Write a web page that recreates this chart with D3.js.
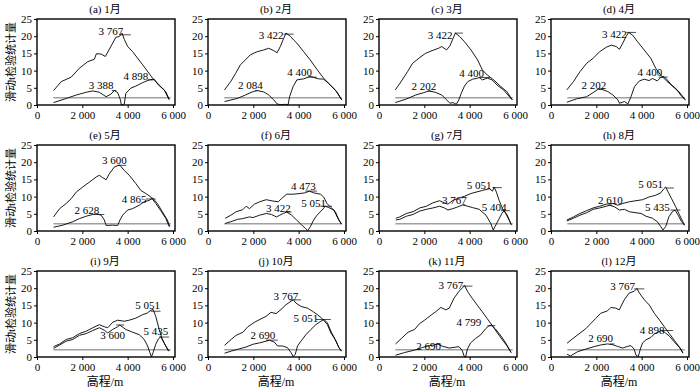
<!DOCTYPE html>
<html><head><meta charset="utf-8">
<script src="https://cdn.jsdelivr.net/npm/d3@7"></script>
<style>body{margin:0;background:#fff}svg{display:block}</style>
</head><body><svg id="c" width="700" height="391"></svg>
<script>
const months = ["1月","2月","3月","4月","5月","6月","7月","8月","9月","10月","11月","12月"];
const letters = ["a","b","c","d","e","f","g","h","i","j","k","l"];
const xTicks = [0, 2000, 4000, 6000];
const yTicks = [0, 5, 10, 15, 20, 25];
const threshold = 2.1;
const thresholdRange = [720, 5900];

const m1A = [[730,4.2],[1070,6.8],[1510,8.1],[1870,10.7],[2240,12.6],[2530,13.3],[2620,14.9],[2830,14.8],[3015,14.1],[3340,18],[3480,19.7],[3630,19.9],[3750,20.9],[3850,19.1],[4000,17],[4220,15.5],[4660,11.7],[5100,7.8],[5390,5.8],[5680,3.9],[5830,1.7]];
const m1B = [[730,0.7],[1290,1.9],[1730,2.9],[2170,3.7],[2460,4.1],[2750,3.7],[3050,2.4],[3270,3.2],[3410,4.2],[3560,3.6],[3630,2.4],[3680,1.5],[3720,0.1],[3780,0],[3850,0.3],[3920,3.4],[4140,4.9],[4360,5.5],[4660,6.5],[4950,7.3],[5170,7.5],[5360,5.8],[5610,4.4],[5830,1.5]];
const m2A = [[730,4.4],[1000,6.8],[1220,9.2],[1430,11.7],[1650,13.1],[1870,14.6],[2170,15.5],[2460,16],[2680,16.5],[2900,15.8],[3050,15.2],[3190,17],[3340,19.4],[3440,20.9],[3630,20],[3780,18.9],[3920,18],[4220,15.5],[4510,13.1],[4800,10.4],[5100,7.8],[5390,5.8],[5680,3.9],[5900,1.5]];
const m2B = [[730,1],[1290,1.9],[1650,2.9],[1950,3.8],[2170,4.2],[2460,3.8],[2680,2.9],[2900,1.5],[3050,0.3],[3190,0.1],[3410,0.2],[3530,0],[3600,2.4],[3750,5.3],[3920,7.3],[4220,7.6],[4510,8.3],[4660,8],[4880,7.6],[5100,7.5],[5320,6.3],[5610,4.4],[5900,1.5]];
const m3A = [[720,4.4],[975,6.8],[1260,9.7],[1480,12.1],[1760,13.6],[2050,15],[2340,15.8],[2630,16.5],[2770,17],[2980,16],[3130,17.2],[3270,19.4],[3370,20.9],[3560,19.9],[3770,18.4],[4060,16],[4350,13.1],[4560,10.2],[4780,8.7],[5060,7.3],[5350,5.5],[5640,3.9],[5880,1.5]];
const m3B = [[720,0.7],[1190,1.7],[1620,2.9],[1980,3.6],[2200,4.1],[2480,3.7],[2770,2.9],[2980,1.5],[3130,0.5],[3270,0.7],[3410,0.2],[3520,1.5],[3630,3.4],[3770,5.5],[3920,6.8],[4130,7.5],[4350,7.8],[4420,8],[4560,7.3],[4780,7.8],[4990,7.3],[5210,5.8],[5490,4.4],[5880,1.5]];
const m4A = [[700,4.4],[990,6.8],[1280,9.7],[1570,12.1],[1860,13.6],[2150,15.5],[2440,16.8],[2660,17.4],[2880,17],[3020,16.2],[3170,18],[3310,19.9],[3430,21.1],[3600,20.3],[3820,18.4],[4110,16],[4400,13.6],[4620,10.7],[4840,8.7],[5130,6.8],[5490,4.9],[5780,2.4],[5930,1.5]];
const m4B = [[700,0.8],[1130,1.8],[1570,2.4],[1860,3.6],[2080,4.6],[2220,4.6],[2510,3.9],[2730,2.9],[2950,1.5],[3020,0.5],[3240,1],[3390,0.3],[3530,2.4],[3680,5.3],[3900,7],[4110,7.5],[4330,7.1],[4480,7.7],[4690,7],[4840,8],[4980,8.3],[5130,7.3],[5350,5.5],[5640,3.9],[5930,1.5]];
const m5A = [[730,4.1],[1000,6.5],[1290,8],[1510,9.4],[1730,11.3],[2020,12.8],[2310,14.2],[2610,15.7],[2750,16.2],[2900,15.5],[3050,14.9],[3190,16.6],[3410,18.6],[3560,19],[3660,19.1],[3850,17.6],[4070,16.2],[4360,13.8],[4580,11.8],[4800,10.9],[5020,9.9],[5240,8],[5460,5.9],[5680,3.7],[5830,1.3]];
const m5B = [[730,1.1],[1140,1.7],[1580,2.7],[1870,3.6],[2170,4.3],[2460,4.8],[2680,4.9],[2830,4.6],[2970,3.2],[3050,1.6],[3340,1.7],[3560,1.6],[3660,3.2],[3780,4.6],[4000,6.1],[4220,6.5],[4510,7.5],[4730,8.5],[4950,8.9],[5100,9.6],[5310,8],[5530,5.6],[5750,3.2],[5860,1.3]];
const m6A = [[760,3.7],[1010,4.6],[1240,5.6],[1530,6.2],[1680,7.2],[1830,6.5],[2050,7.8],[2280,8.5],[2570,9.1],[2870,8.7],[3100,8.5],[3240,9.4],[3470,10.7],[3760,10.7],[4060,10.9],[4290,11.1],[4470,11.6],[4660,11.1],[4960,10.7],[5100,9.9],[5250,8],[5400,7],[5620,5.6],[5770,3.2],[5890,2]];
const m6B = [[760,2.2],[1010,2.7],[1310,3.4],[1530,3.6],[1830,4.1],[1980,3.9],[2280,4.6],[2570,5.1],[2800,4.8],[3020,4.1],[3170,4.6],[3320,5.1],[3470,5.5],[3690,4.6],[3910,3.2],[4140,1.7],[4290,0.8],[4400,0.1],[4510,1.2],[4660,3.2],[4810,4.6],[5030,6.1],[5180,7.2],[5330,6.8],[5550,6.1],[5700,4.1],[5890,2]];
const m7A = [[740,3.7],[920,4.1],[1210,5.1],[1500,5.6],[1800,6.7],[2090,7.2],[2380,8.2],[2670,8.8],[2890,8.2],[3040,7.8],[3260,8.9],[3470,9.4],[3770,10.1],[4060,10.9],[4280,11.3],[4570,11.8],[4860,12.3],[5010,11.6],[5080,12.8],[5180,11.3],[5300,8.9],[5450,6.5],[5590,5.1],[5740,3.2],[5850,1.7]];
const m7B = [[740,3.2],[920,3.4],[1210,4.3],[1500,4.8],[1800,5.8],[2090,6.3],[2380,6.7],[2670,7.2],[2890,6.7],[3040,6.1],[3260,6.5],[3470,7],[3700,7.6],[3910,7.2],[4130,6.8],[4420,6.3],[4720,4.6],[4930,2.2],[5040,0.3],[5120,1.3],[5270,3.2],[5420,5.1],[5520,5.9],[5660,4.6],[5810,2.2]];
const m8A = [[700,3.2],[990,4.1],[1280,5.1],[1570,5.9],[1860,6.7],[2150,7.2],[2440,7.8],[2730,8],[2950,7.5],[3170,8],[3460,8.5],[3750,8.8],[4040,9.1],[4330,9.9],[4620,10.4],[4840,11.1],[4980,12.3],[5060,12.8],[5170,11.3],[5320,9.4],[5490,7.2],[5640,5.1],[5780,3.2],[5890,1.7]];
const m8B = [[700,2.9],[990,3.7],[1280,4.6],[1570,5.3],[1860,6.3],[2150,6.7],[2440,7.2],[2590,7.5],[2810,7],[3020,6.1],[3240,6.3],[3460,5.6],[3750,5.3],[3970,5.1],[4190,4.3],[4480,3.7],[4690,2.7],[4840,1.3],[4940,0.3],[5060,1.3],[5200,4.1],[5350,5.6],[5470,6.1],[5610,4.6],[5760,2.7],[5890,1.7]];
const m9A = [[730,3],[1000,3.8],[1290,5.1],[1580,5.6],[1870,6.8],[2170,7.5],[2460,8.5],[2750,9.4],[2970,8.8],[3120,8.5],[3340,10.1],[3560,10.7],[3850,10.4],[4070,10.7],[4360,11.3],[4660,12.3],[4880,12.8],[5020,13.6],[5120,13.8],[5240,11.8],[5390,8],[5530,5.1],[5680,3.2],[5830,1.7]];
const m9B = [[730,2.5],[1000,3.5],[1290,4.6],[1580,5.1],[1870,6.3],[2170,6.8],[2460,7.7],[2750,8.5],[2970,7.8],[3120,7],[3340,8],[3560,8.8],[3650,9.3],[3920,8],[4220,7.2],[4510,6.5],[4730,5.1],[4880,3.2],[4980,1.3],[5050,0],[5120,1.3],[5240,3.7],[5360,5.3],[5460,5.9],[5610,4.1],[5800,1.7]];
const m10A = [[730,3.4],[1020,5.1],[1240,6.3],[1540,7.2],[1760,8.8],[2050,10.1],[2340,11.1],[2560,11.8],[2780,13],[3000,12.6],[3220,13.8],[3440,15.2],[3660,16.2],[3760,16.6],[3880,15.7],[4100,14.7],[4390,14.2],[4610,13.3],[4830,12.3],[5050,11.1],[5270,9.4],[5420,7],[5610,5.1],[5780,2.7],[5890,1.7]];
const m10B = [[730,1.1],[1020,1.7],[1390,2.4],[1680,2.9],[1980,3.7],[2270,4.1],[2560,4.6],[2710,4.9],[2930,4.3],[3070,3.2],[3290,3.2],[3510,2.7],[3660,1.3],[3760,0.1],[3850,0.8],[3950,3.2],[4100,4.6],[4320,6.5],[4540,8],[4760,9.4],[4980,10.4],[5120,10.9],[5270,9.9],[5420,7.5],[5610,5.1],[5780,2.7],[5890,1.7]];
const m11A = [[730,3.8],[990,5.4],[1280,7.2],[1570,8],[1790,9.7],[2010,10.7],[2300,12.2],[2510,13.2],[2730,14.4],[2950,13.7],[3100,14.2],[3310,17.1],[3530,19.1],[3680,20.1],[3780,20.8],[3900,19.1],[4110,17.1],[4330,15.1],[4550,13.2],[4770,11.2],[4990,9.2],[5200,7.2],[5420,5.2],[5640,3.3],[5830,1.3]];
const m11B = [[730,0.5],[1130,1.3],[1570,2],[1930,2.8],[2220,3.3],[2440,3.5],[2590,3.8],[2810,3.1],[3100,2.6],[3310,2.8],[3530,3],[3680,1.8],[3750,0.3],[3820,0],[3900,2.3],[4040,4.1],[4260,5.4],[4480,6.4],[4700,8.2],[4840,9],[4960,9.3],[5130,8.2],[5350,6.4],[5570,4.3],[5830,1.3]];
const m12A = [[710,4],[930,5.2],[1230,6.7],[1530,8.2],[1750,9.7],[1970,11.2],[2190,12.7],[2490,13.4],[2640,14.4],[2860,14.2],[3010,13.7],[3230,16.6],[3450,18.6],[3670,19.1],[3790,19.9],[3900,18.6],[4120,16.6],[4340,15.1],[4560,12.7],[4790,10.7],[5010,8.7],[5230,6.7],[5450,4.8],[5670,2.8],[5820,1.3]];
const m12B = [[710,0.8],[860,0.3],[1160,1.5],[1530,2.3],[1900,3],[2190,3.5],[2490,3.8],[2710,3.6],[2930,3.1],[3160,2.6],[3380,3.1],[3530,3.3],[3670,2.3],[3750,0.5],[3850,0.1],[3940,2.3],[4040,4.1],[4190,5],[4410,5.7],[4560,6.7],[4710,7.2],[4860,7.7],[5010,7.2],[5230,6],[5450,4.3],[5670,2.8],[5820,1.1]];

const seriesA = [m1A,m2A,m3A,m4A,m5A,m6A,m7A,m8A,m9A,m10A,m11A,m12A];
const seriesB = [m1B,m2B,m3B,m4B,m5B,m6B,m7B,m8B,m9B,m10B,m11B,m12B];

// peak annotations: [label, text x, text y, mark from x, mark to x, mark y] in data units
const peaks = [
  [["3 767",3260,21.4,3630,4140,20.4],["3 388",2830,5.8,3300,3500,4.2],["4 898",4360,8.4,4900,5150,7.3]],
  [["3 422",2780,20.4,3340,3780,20.6],["2 084",1870,5.8,2080,2200,4.2],["4 400",4040,9.7,4400,4800,8.1]],
  [["3 422",2700,20.4,3340,3700,20.9],["2 202",1980,5.5,2150,2300,4.1],["4 400",4090,9.4,4400,4900,8.0]],
  [["3 422",2800,20.5,3320,3750,21.1],["2 202",1890,5.8,2100,2300,4.6],["4 400",4360,9.7,4750,5150,8.1]],
  [["3 600",3410,20.7,3560,3940,19.1],["2 628",2200,6.1,2610,2970,4.8],["4 865",4290,9.2,4800,5240,9.3]],
  [["4 473",4210,13.0,4290,4810,11.6],["3 422",3100,6.8,3400,3690,5.5],["5 051",4660,8.0,4960,5480,7.2]],
  [["5 051",4420,13.3,5010,5420,12.6],["3 767",3330,8.9,3700,3800,7.6],["5 404",5080,7.0,5380,5780,5.9]],
  [["5 051",4400,13.6,5060,5420,12.5],["2 610",2620,9.0,2560,2700,7.5],["5 435",4690,6.9,5270,5710,6.1]],
  [["5 051",4880,15.2,5010,5450,13.3],["3 600",3340,6.3,3490,3850,9.3],["5 435",5240,7.5,5390,5830,5.8]],
  [["3 767",3440,17.6,3590,4100,16.6],["2 690",2420,6.3,2560,3080,4.9],["5 051",4320,11.3,4760,5420,10.9]],
  [["3 767",3170,20.9,3680,4120,20.6],["2 690",2190,3.3,2510,2730,3.8],["4 799",3970,10.2,4780,5130,9.1]],
  [["3 767",3160,20.6,3670,4120,19.8],["2 690",2190,5.4,2600,2800,3.8],["4 898",4460,7.9,4930,5380,7.7]]
];

const svg = d3.select("#c");
const lefts = [37, 208, 379, 551];
const tops = [19, 145, 271];
const W = 136, H = 86;
const serif = "'Liberation Serif','Times New Roman',serif";
const cjk = "'Liberation Serif','Noto Sans CJK SC',serif";
const fmt = d => d3.format(",")(d).replace(/,/g, " ");

months.forEach((m, i) => {
  const col = i % 4, row = Math.floor(i / 4);
  const x0 = lefts[col], y0 = tops[row];
  const x = d3.scaleLinear().domain([0, 6000]).range([x0, x0 + W]);
  const y = d3.scaleLinear().domain([0, 25]).range([y0 + H, y0]);
  const g = svg.append("g");

  // threshold
  g.append("line")
    .attr("x1", x(thresholdRange[0])).attr("x2", x(thresholdRange[1]))
    .attr("y1", y(threshold)).attr("y2", y(threshold))
    .attr("stroke", "#a0a0a0").attr("stroke-width", 1.6);

  const line = d3.line().x(d => x(d[0])).y(d => y(d[1]));
  [seriesA[i], seriesB[i]].forEach(s => {
    g.append("path").attr("d", line(s)).attr("fill", "none")
      .attr("stroke", "#000").attr("stroke-width", 0.9).attr("stroke-linejoin", "round");
  });

  // annotations
  peaks[i].forEach(p => {
    g.append("line").attr("x1", x(p[3])).attr("x2", x(p[4]))
      .attr("y1", y(p[5])).attr("y2", y(p[5]))
      .attr("stroke", "#000").attr("stroke-width", 0.7);
    g.append("text").attr("x", x(p[1])).attr("y", y(p[2]))
      .attr("text-anchor", "middle").attr("dominant-baseline", "central")
      .attr("font-family", serif).attr("font-size", 11).text(p[0]);
  });

  // axes
  const xa = g.append("g").attr("transform", `translate(0,${y0 + H})`)
    .call(d3.axisBottom(x).tickValues(xTicks).tickFormat(fmt).tickSize(3).tickPadding(3));
  const ya = g.append("g").attr("transform", `translate(${x0},0)`)
    .call(d3.axisLeft(y).tickValues(yTicks).tickSize(3).tickPadding(2));
  [xa, ya].forEach(a => {
    a.select(".domain").remove();
    a.selectAll("line").attr("stroke", "#000");
    a.selectAll("text").attr("font-family", serif).attr("font-size", 11).attr("fill", "#000");
  });

  // frame
  g.append("rect").attr("x", x0).attr("y", y0).attr("width", W + 2).attr("height", H)
    .attr("fill", "none").attr("stroke", "#000").attr("stroke-width", 1.4);

  // title
  g.append("text").attr("x", x0 + W / 2).attr("y", y0 - 6)
    .attr("text-anchor", "middle").attr("font-family", cjk).attr("font-size", 11)
    .text(`(${letters[i]}) ${m}`);

  if (row === 2) {
    g.append("text").attr("x", x0 + W / 2).attr("y", 386)
      .attr("text-anchor", "middle").attr("font-family", cjk).attr("font-size", 12)
      .text("高程/m");
  }
  if (col === 0) {
    g.append("text").attr("transform", `translate(11,${y0 + H / 2}) rotate(-90)`)
      .attr("text-anchor", "middle").attr("dominant-baseline", "central")
      .attr("font-family", cjk).attr("font-size", 11).text("滑动t检验统计量");
  }
});
</script></body></html>
